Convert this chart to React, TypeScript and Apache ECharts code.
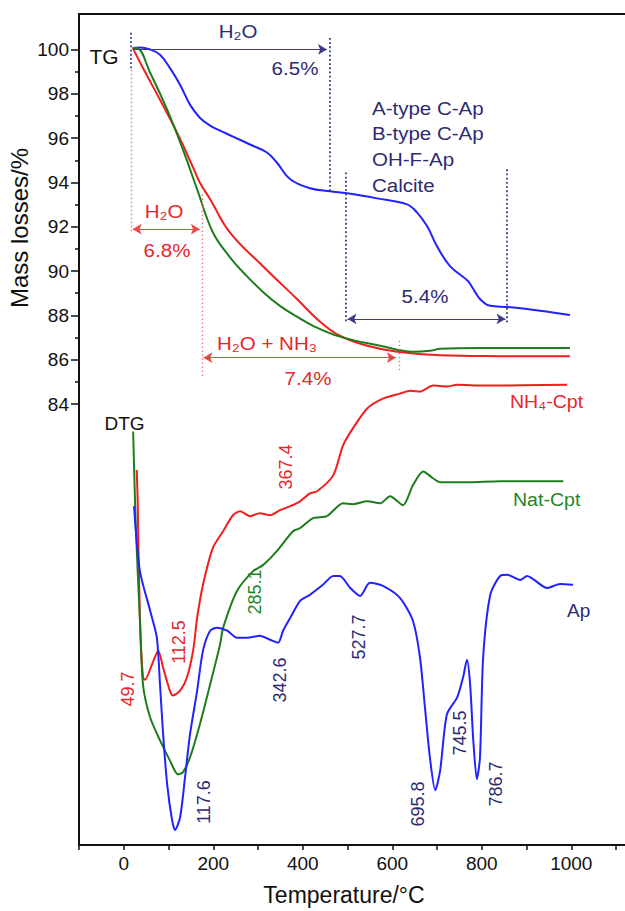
import React, { useEffect, useRef } from "react";
import * as echarts from "echarts";

// ---------- axis ticks ----------
const X_LABELS = [0, 200, 400, 600, 800, 1000];
const Y_MAJOR = [84, 86, 88, 90, 92, 94, 96, 98, 100];
const Y_MINOR = [85, 87, 89, 91, 93, 95, 97, 99];

// ---------- TG curves [temperature °C, mass %] ----------
const TG_AP: [number, number][] = [
  [20, 100.07], [36, 100.09], [59, 100.0], [81, 99.76], [103, 99.17], [126, 98.4],
  [148, 97.51], [170, 96.92], [193, 96.56], [215, 96.34], [244, 96.07], [282, 95.71],
  [320, 95.35], [342, 94.9], [372, 94.14], [416, 93.74], [461, 93.6], [499, 93.51],
  [566, 93.28], [633, 93.01], [655, 92.65], [678, 92.02], [700, 91.12], [729, 90.22],
  [769, 89.55], [781, 89.19], [796, 88.74], [819, 88.43], [857, 88.38], [901, 88.29],
  [997, 88.02],
];
const TG_NH4: [number, number][] = [
  [20, 100.07], [43, 99.16], [81, 97.73], [119, 96.25], [155, 94.67], [170, 94.0],
  [193, 93.24], [237, 91.75], [311, 90.22], [387, 88.74], [439, 87.71], [483, 87.08],
  [544, 86.63], [611, 86.36], [707, 86.2], [841, 86.16], [997, 86.15],
];
const TG_NAT: [number, number][] = [
  [20, 100.07], [30, 100.06], [59, 98.95], [97, 97.28], [132, 95.49], [164, 93.69],
  [199, 91.75], [237, 90.63], [275, 89.77], [311, 89.06], [349, 88.43], [387, 87.94],
  [423, 87.53], [483, 87.04], [573, 86.63], [646, 86.36], [684, 86.4], [707, 86.49],
  [796, 86.53], [997, 86.53],
];

// ---------- DTG curves (arbitrary units, drawn on same vertical scale) ----------
const DTG_NH4: [number, number][] = [
  [29, 81.02], [31, 79.75], [36, 74.35], [43, 71.65], [47.5, 71.56], [63, 72.24],
  [77, 72.87], [88, 72.1], [103, 71.07], [110, 70.85], [126, 71.07], [141, 71.65],
  [155, 72.87], [164, 74.35], [177, 75.84], [199, 77.5], [222, 78.26], [244, 78.98],
  [260, 79.16], [282, 78.94], [304, 79.07], [327, 78.98], [349, 79.21], [372, 79.39],
  [394, 79.61], [416, 79.97], [432, 80.06], [468, 80.78], [490, 82.13], [512, 82.9],
  [544, 83.8], [579, 84.24], [617, 84.47], [640, 84.6], [662, 84.56], [691, 84.83],
  [722, 84.79], [745, 84.87], [803, 84.83], [991, 84.87],
];
const DTG_NAT: [number, number][] = [
  [21, 82.76], [27, 78.4], [36, 74.35], [43, 71.34], [59, 69.85], [81, 68.82],
  [103, 67.92], [121, 67.29], [132, 67.38], [148, 68.05], [170, 69.54], [193, 71.34],
  [215, 73.13], [222, 73.9], [253, 75.56], [289, 76.46], [311, 76.73], [342, 77.36],
  [378, 78.26], [394, 78.4], [423, 78.85], [454, 78.94], [490, 79.52], [512, 79.48],
  [544, 79.61], [573, 79.52], [595, 79.84], [624, 79.43], [646, 80.33], [669, 80.96],
  [691, 80.65], [707, 80.47], [767, 80.47], [841, 80.52], [915, 80.52], [982, 80.52],
];
const DTG_AP: [number, number][] = [
  [23, 79.39], [36, 76.47], [59, 74.67], [74, 73.45], [81, 71.34], [88, 69.09],
  [97, 66.84], [108, 65.22], [114.5, 64.78], [126, 65.36], [137, 67.16], [148, 69.09],
  [164, 71.07], [177, 72.87], [193, 73.77], [208, 73.9], [231, 73.77], [253, 73.45],
  [275, 73.45], [304, 73.54], [327, 73.36], [345, 73.23], [356, 73.77], [372, 74.35],
  [394, 75.12], [416, 75.39], [445, 75.84], [468, 76.24], [483, 76.24], [506, 75.7],
  [528, 75.34], [550, 75.93], [579, 75.79], [617, 75.25], [646, 74.22], [662, 72.55],
  [673, 70.31], [684, 68.06], [696, 66.57], [707, 67.47], [722, 69.99], [745, 70.76],
  [758, 71.65], [767, 72.46], [774, 71.34], [781, 68.82], [789, 67.07], [796, 68.06],
  [803, 72.55], [819, 75.39], [841, 76.24], [857, 76.29], [886, 76.06], [901, 76.24],
  [946, 75.7], [975, 75.88], [1004, 75.84],
];

// ---------- annotation segments: [x1, y1, x2, y2] in data units ----------
const NAVY_DOTTED: [number, number, number, number][] = [
  [16, 100.75, 16, 99.08],
  [461, 100.52, 461, 93.6],
  [497, 94.45, 497, 87.62],
  [856, 94.59, 856, 87.62],
];
const RED_DOTTED: [number, number, number, number][] = [
  [16, 99.08, 16, 91.75],
  [175, 93.46, 175, 85.23],
  [616, 86.85, 616, 85.46],
];
const NAVY_ARROWS: [number, number, number, number, string, string][] = [
  [22, 100, 454, 100, "none", "arrow"],
  [500, 87.84, 853, 87.84, "arrow", "arrow"],
];
const RED_ARROWS: [number, number, number, number, string, string][] = [
  [20, 91.89, 170, 91.89, "arrow", "arrow"],
  [178, 86.09, 608, 86.09, "arrow", "arrow"],
];

const PEAKS: [string, number, number, string][] = [
  ["367.4", 286, 467, "red"],
  ["285.1", 255, 592, "green"],
  ["112.5", 179, 642, "red"],
  ["49.7", 127.5, 689, "red"],
  ["117.6", 204, 802, "navy"],
  ["342.6", 279.5, 680, "navy"],
  ["527.7", 359, 637, "navy"],
  ["695.8", 417.5, 804, "navy"],
  ["745.5", 459.5, 733, "navy"],
  ["786.7", 495.5, 784, "navy"],
];

const FONT = "'Liberation Sans', Arial, Helvetica, sans-serif";
const C = {
  blue: "#2222ff",
  red: "#f21d1d",
  green: "#1d7d1d",
  navy: "#2d2a72",
  redText: "#e8262b",
  greenText: "#1e861e",
  pink: "#f07b7b",
  navyLine: "#3c3a86",
};
const colorOf = (k: string) => (k === "red" ? C.redText : k === "green" ? C.greenText : C.navy);

function txt(text: string, x: number, y: number, fill: string, size: number, align = "center", rotation = 0, scaleX = 1) {
  return {
    type: "text",
    x,
    y,
    rotation,
    scaleX,
    silent: true,
    style: {
      text,
      fill,
      font: `${size}px ${FONT}`,
      fontSize: size,
      fontFamily: FONT,
      textAlign: align,
      align,
      textVerticalAlign: "middle",
      verticalAlign: "middle",
    },
  };
}

function seg(s: [number, number, number, number], color: string, type: any, width: number, a = "none", b = "none") {
  const ls = { color, type, width };
  return [
    { coord: [s[0], s[1]], symbol: a, lineStyle: ls },
    { coord: [s[2], s[3]], symbol: b, lineStyle: ls },
  ];
}

export default function App() {
  const ref = useRef<HTMLDivElement>(null);
  useEffect(() => {
    const chart = echarts.init(ref.current!, null, { renderer: "svg" });
    const lineSeries = (name: string, data: [number, number][], color: string, smooth: number, extra: any = {}) => ({
      name,
      type: "line",
      data,
      showSymbol: false,
      smooth,
      lineStyle: { color, width: 2 },
      itemStyle: { color },
      silent: true,
      z: 3,
      ...extra,
    });
    const markData = [
      ...NAVY_DOTTED.map((s) => seg(s, C.navyLine, [1.8, 2.4], 1.8)),
      ...RED_DOTTED.map((s) => seg(s, C.pink, [1.5, 2.5], 1.4)),
      ...NAVY_ARROWS.map((s) => seg([s[0], s[1], s[2], s[3]], C.navyLine, "solid", 1, s[4], s[5])),
      ...RED_ARROWS.map((s) => seg([s[0], s[1], s[2], s[3]], "#ee4444", "solid", 1.2, s[4], s[5])),
    ];
    const S = 1.08;
    const graphics: any[] = [
      txt("TG", 104, 56, "#111", 21),
      txt("DTG", 124.5, 423, "#111", 19),
      txt("H₂O", 238, 31, C.navy, 19, "center", 0, S),
      txt("6.5%", 295, 68, C.navy, 19, "center", 0, S),
      txt("A-type C-Ap", 372, 108, C.navy, 19, "left", 0, S),
      txt("B-type C-Ap", 372, 133, C.navy, 19, "left", 0, S),
      txt("OH-F-Ap", 372, 159, C.navy, 19, "left", 0, S),
      txt("Calcite", 372, 185, C.navy, 19, "left", 0, S),
      txt("5.4%", 425, 296, C.navy, 19, "center", 0, S),
      txt("H₂O", 164, 211, C.redText, 19, "center", 0, S),
      txt("6.8%", 167, 250, C.redText, 19, "center", 0, S),
      txt("H₂O + NH₃", 267, 343, C.redText, 19, "center", 0, S),
      txt("7.4%", 308, 378, C.redText, 19, "center", 0, S),
      txt("NH₄-Cpt", 510, 402, C.redText, 19, "left", 0, 1.03),
      txt("Nat-Cpt", 513, 500, C.greenText, 19, "left", 0, 1.03),
      txt("Ap", 567, 610, C.navy, 19, "left"),
      txt("Mass losses/%", 19, 228, "#111", 24, "center", Math.PI / 2),
      ...PEAKS.map((p) => txt(p[0], p[1], p[2], colorOf(p[3]), 18, "center", Math.PI / 2)),
    ];
    const yBase = { min: 64.1, max: 101.6, type: "value" as const };
    chart.setOption({
      animation: false,
      backgroundColor: "#ffffff",
      grid: { left: 79, right: 0, top: 14, bottom: 63, containLabel: false },
      xAxis: [
        {
          type: "value",
          min: -100,
          max: 1120,
          interval: 100,
          position: "bottom",
          name: "Temperature/°C",
          nameLocation: "middle",
          nameGap: 38,
          nameTextStyle: { fontFamily: FONT, fontSize: 23, color: "#111", padding: [0, 16, 0, 0] },
          axisLine: { show: true, onZero: false, lineStyle: { color: "#111", width: 2 } },
          axisTick: { show: true, length: 5, lineStyle: { color: "#111", width: 1.5 } },
          axisLabel: {
            show: true,
            margin: 9,
            fontFamily: FONT,
            fontSize: 19,
            color: "#111",
            showMinLabel: true,
            showMaxLabel: false,
            formatter: (v: number) => (X_LABELS.indexOf(v) >= 0 ? String(v) : ""),
          },
          splitLine: { show: false },
        },
        {
          type: "value",
          min: -100,
          max: 1120,
          position: "top",
          axisLine: { show: true, onZero: false, lineStyle: { color: "#111", width: 2 } },
          axisTick: { show: false },
          axisLabel: { show: false },
          splitLine: { show: false },
        },
      ],
      yAxis: [
        {
          ...yBase,
          position: "left",
          axisLine: { show: true, onZero: false, lineStyle: { color: "#111", width: 2 } },
          axisTick: { show: true, length: 8, customValues: Y_MAJOR, lineStyle: { color: "#111", width: 1.5 } },
          axisLabel: { show: true, customValues: Y_MAJOR, margin: 10, fontFamily: FONT, fontSize: 19, color: "#111" },
          splitLine: { show: false },
        },
        {
          ...yBase,
          position: "left",
          axisLine: { show: false, onZero: false },
          axisTick: { show: true, length: 4, customValues: Y_MINOR, lineStyle: { color: "#111", width: 1.5 } },
          axisLabel: { show: true, customValues: Y_MINOR, formatter: () => "" },
          splitLine: { show: false },
        },
      ],
      series: [
        lineSeries("TG Ap", TG_AP, C.blue, 0.4, {
          markLine: {
            silent: true,
            animation: false,
            symbolSize: [8, 9],
            label: { show: false },
            emphasis: { disabled: true },
            data: markData,
          },
        }),
        lineSeries("TG NH4-Cpt", TG_NH4, C.red, 0.4),
        lineSeries("TG Nat-Cpt", TG_NAT, C.green, 0.4),
        lineSeries("DTG NH4-Cpt", DTG_NH4, C.red, 0.25),
        lineSeries("DTG Nat-Cpt", DTG_NAT, C.green, 0.25),
        lineSeries("DTG Ap", DTG_AP, C.blue, 0.25),
      ],
      graphic: graphics,
    });
    return () => chart.dispose();
  }, []);
  return <div ref={ref} style={{ position: "absolute", left: 0, top: 0, width: 625, height: 911 }} />;
}
